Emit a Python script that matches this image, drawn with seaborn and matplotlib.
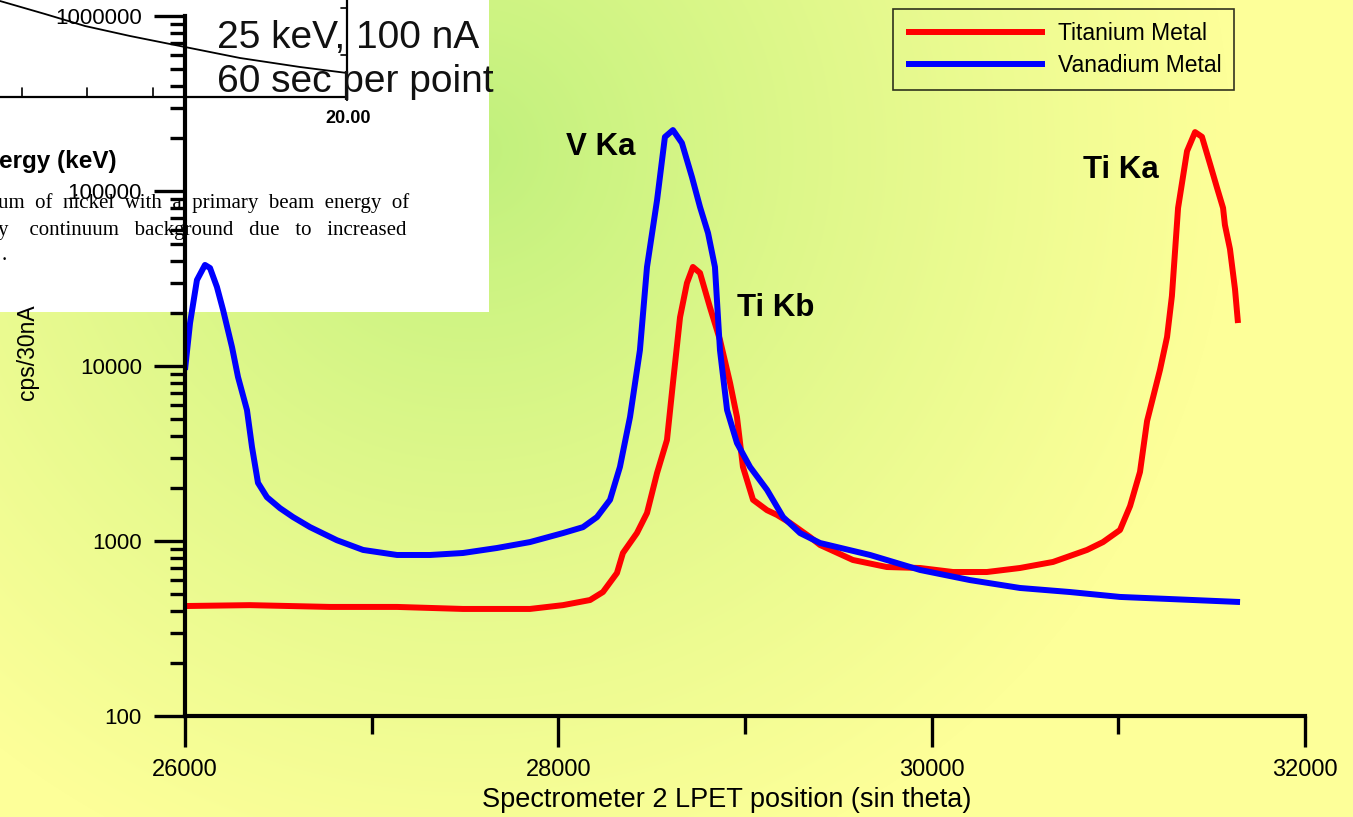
import numpy as np
import pandas as pd
import matplotlib
matplotlib.use("Agg")
import matplotlib.pyplot as plt
import matplotlib.ticker as mticker
from matplotlib.colors import to_rgb
import seaborn as sns

# spectrometer position (sin theta) and counts
ti_pos = [26000, 26348, 26777, 27136, 27489, 27848, 28025, 28170, 28239, 28314,
          28346, 28421, 28475, 28529, 28582, 28614, 28652, 28689, 28721, 28759,
          28812, 28866, 28920, 28957, 28989, 29043, 29118, 29171, 29241, 29348,
          29402, 29578, 29760, 29938, 30114, 30296, 30473, 30650, 30832, 30918,
          31009, 31063, 31116, 31154, 31223, 31261, 31287, 31320, 31368, 31411,
          31448, 31491, 31529, 31561, 31571, 31598, 31625, 31641]
ti_cps = [425, 430, 420, 420, 409, 409, 430, 460, 511, 656,
          854, 1110, 1445, 2450, 3780, 8000, 19000, 29800, 36800, 34000,
          21700, 14100, 8000, 5110, 2650, 1720, 1500, 1410, 1270, 1054,
          949, 779, 710, 701, 665, 665, 701, 759, 889, 986,
          1156, 1585, 2480, 4850, 9490, 14650, 25100, 80000, 169000, 217000,
          204000, 143000, 104000, 80000, 64000, 46600, 27500, 17600]

v_pos = [26000, 26027, 26064, 26107, 26134, 26171, 26204, 26252, 26284, 26332,
         26359, 26391, 26439, 26509, 26579, 26670, 26814, 26954, 27136, 27313,
         27489, 27671, 27848, 28025, 28132, 28207, 28277, 28330, 28384, 28437,
         28475, 28529, 28571, 28614, 28662, 28716, 28759, 28802, 28839, 28866,
         28904, 28957, 29027, 29118, 29204, 29295, 29402, 29670, 29938, 30205,
         30473, 30741, 31009, 31277, 31652]
v_cps = [9500, 17600, 31000, 37800, 36300, 28300, 20900, 12800, 8650, 5600,
         3440, 2150, 1780, 1540, 1370, 1200, 1010, 889, 832, 832,
         854, 912, 986, 1110, 1200, 1370, 1720, 2650, 5110, 12300,
         36800, 88900, 203600, 223000, 188000, 120000, 81000, 57500, 36800, 12300,
         5600, 3630, 2650, 1960, 1370, 1110, 974, 832, 683, 598,
         539, 511, 479, 466, 448]

series_names = ["Titanium Metal", "Vanadium Metal"]
series_colors = ["#ff0000", "#0000ff"]

peak_labels = ["V Ka", "Ti Kb", "Ti Ka"]
peak_label_pos = [(28041, 178000), (28957, 21400), (30811, 132000)]

# pasted scan from a textbook figure (top left of the slide), pixel coords
scan_x = [0, 45, 85, 130, 185, 240, 300, 347]
scan_y = [1, 14, 26, 36, 47, 58, 67, 73]

W, H = 1353, 817

sns.set_style("ticks")
plt.rcParams["font.family"] = ["Liberation Sans", "DejaVu Sans"]
plt.rcParams.update({"text.color": "black", "axes.labelcolor": "black",
                     "xtick.color": "black", "ytick.color": "black",
                     "axes.edgecolor": "black"})

df = pd.concat([
    pd.DataFrame({"pos": ti_pos, "cps": ti_cps, "sample": series_names[0]}),
    pd.DataFrame({"pos": v_pos, "cps": v_cps, "sample": series_names[1]}),
])

fig = plt.figure(figsize=(W / 100, H / 100), dpi=100)

# slide background: green-to-yellow radial gradient
bg = fig.add_axes([0, 0, 1, 1], zorder=0)
yy, xx = np.mgrid[0:H, 0:W]
t = np.clip(np.hypot(xx - 470, yy - 150) / 760, 0, 1) ** 0.85
c0 = np.array(to_rgb("#bff07c"))
c1 = np.array(to_rgb("#fdff99"))
img = c0[None, None, :] * (1 - t[..., None]) + c1[None, None, :] * t[..., None]
bg.imshow(img, extent=[0, W, H, 0], aspect="auto", interpolation="bilinear")
bg.set_xlim(0, W)
bg.set_ylim(H, 0)
bg.axis("off")

# white pasted scan
bg.add_patch(plt.Rectangle((0, 0), 489, 312, facecolor="white", edgecolor="none", zorder=2))
bg.plot(scan_x, scan_y, color="black", lw=1.3, zorder=3)
bg.plot([347, 347], [0, 100], color="black", lw=1.6, zorder=3)
bg.plot([0, 347], [97, 97], color="black", lw=1.6, zorder=3)
for tx in [22, 87, 153]:
    bg.plot([tx, tx], [88, 97], color="black", lw=1.2, zorder=3)
for ty in [8, 55]:
    bg.plot([341, 347], [ty, ty], color="black", lw=1.2, zorder=3)
bg.text(348, 118, "20.00", fontsize=13, fontweight="bold", ha="center", va="center", zorder=3)
bg.text(-1, 161, "ergy (keV)", fontsize=17.5, fontweight="bold", ha="left", va="center", zorder=3)
bg.text(-2, 203, "um  of  nickel  with  a  primary  beam  energy  of", fontsize=15,
        family="Liberation Serif", ha="left", va="center", zorder=3)
bg.text(-2, 230, "y    continuum   background   due   to   increased", fontsize=15,
        family="Liberation Serif", ha="left", va="center", zorder=3)
bg.text(2, 255, ".", fontsize=15, family="Liberation Serif", ha="left", va="center", zorder=3)
bg.text(217, 38, "25 keV, 100 nA", fontsize=28, color="#111111", ha="left", va="center", zorder=4)
bg.text(217, 82, "60 sec per point", fontsize=28, color="#111111", ha="left", va="center", zorder=4)

# main chart
ax = fig.add_axes([185 / W, 101 / H, 1120 / W, 700 / H], zorder=2)
ax.set_facecolor("none")
sns.lineplot(data=df, x="pos", y="cps", hue="sample", palette=dict(zip(series_names, series_colors)),
             estimator=None, sort=False, linewidth=4.3, ax=ax)
for ln in ax.get_lines():
    ln.set_solid_joinstyle("round")
    ln.set_solid_capstyle("butt")

ax.set_yscale("log")
ax.set_xlim(26000, 32000)
ax.set_ylim(100, 1e6)
ax.set_yticks([100, 1000, 10000, 100000, 1000000])
ax.yaxis.set_major_formatter(mticker.FuncFormatter(lambda v, p: f"{v:.0f}"))
ax.yaxis.set_minor_locator(mticker.LogLocator(base=10, subs=np.arange(2, 10)))
ax.yaxis.set_minor_formatter(mticker.NullFormatter())
ax.set_xticks([26000, 28000, 30000, 32000])
ax.set_xticks([27000, 29000, 31000], minor=True)
ax.xaxis.set_major_formatter(mticker.FuncFormatter(lambda v, p: f"{v:.0f}"))

for side in ["top", "right"]:
    ax.spines[side].set_visible(False)
for side in ["left", "bottom"]:
    ax.spines[side].set_linewidth(3)
    ax.spines[side].set_color("black")
ax.tick_params(which="major", direction="out", length=22, width=2.4, pad=9, color="black")
ax.tick_params(axis="y", which="major", labelsize=16)
ax.tick_params(axis="x", which="major", labelsize=17)
ax.tick_params(axis="y", which="minor", direction="out", length=11, width=2.4, color="black")
ax.tick_params(axis="x", which="minor", direction="out", length=13, width=2.4, color="black")

ax.set_xlabel("Spectrometer 2 LPET position (sin theta)", fontsize=19.5)
ax.xaxis.set_label_coords((727 - 185) / 1120, -84 / 700)
ax.xaxis.label.set_va("center")
ax.set_ylabel("cps/30nA", fontsize=16.5)
ax.yaxis.set_label_coords(-157 / 1120, 0.52)
ax.yaxis.label.set_va("center")

for lab, (px, py) in zip(peak_labels, peak_label_pos):
    ax.text(px, py, lab, fontsize=22.5, fontweight="bold", ha="left", va="center")

handles, labels = ax.get_legend_handles_labels()
leg = ax.legend(handles, labels, loc="upper left", bbox_to_anchor=(893 / W, 1 - 9 / H),
                bbox_transform=fig.transFigure, frameon=True, fancybox=False, fontsize=16.5,
                handlelength=6.1, handletextpad=0.55, labelspacing=0.43, borderpad=0.55,
                borderaxespad=0)
leg.get_frame().set_edgecolor("black")
leg.get_frame().set_linewidth(1.2)
leg.get_frame().set_facecolor("none")
for h in leg.get_lines():
    h.set_linewidth(4.3)

fig.savefig("out.png", dpi=100)
